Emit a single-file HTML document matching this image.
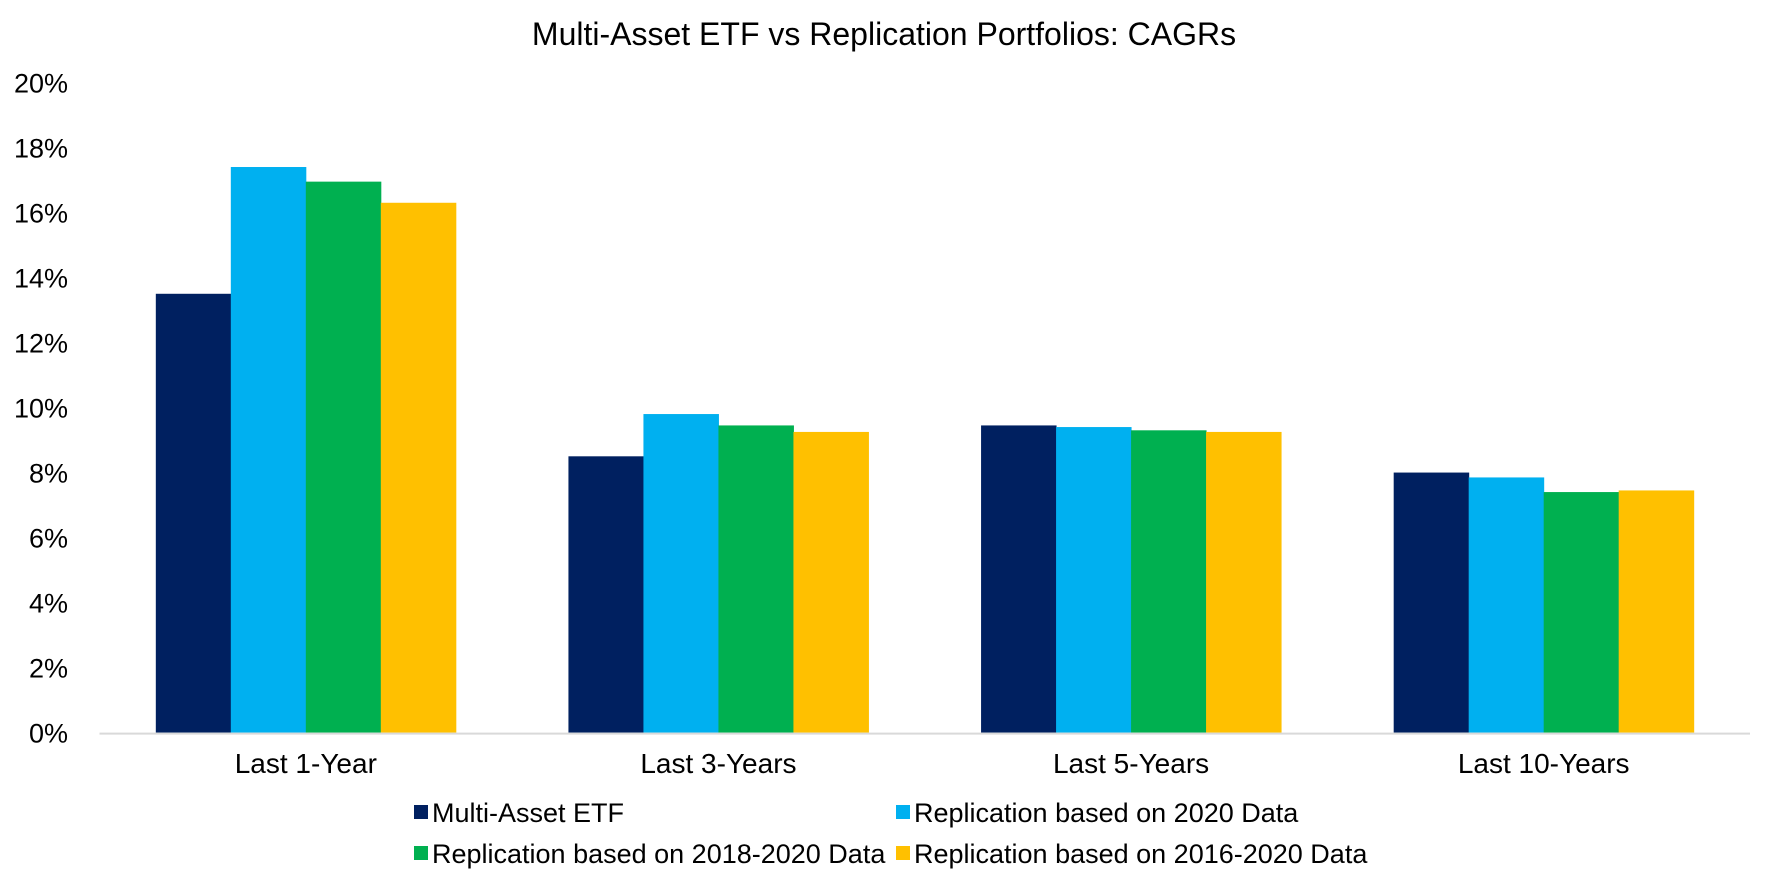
<!DOCTYPE html>
<html><head><meta charset="utf-8"><style>
body{margin:0;background:#fff;}
svg{font-family:"Liberation Sans",Arial,sans-serif;display:block}
</style></head><body>
<svg id="chart" width="1772" height="885">
<text x="884" y="45" text-anchor="middle" font-size="32" fill="#000">Multi-Asset ETF vs Replication Portfolios: CAGRs</text>
<g id="yaxis"></g>
<g id="bars"></g>
<g id="xaxis"></g>
<g id="legend"></g>
</svg>
<script>
const categories=["Last 1-Year","Last 3-Years","Last 5-Years","Last 10-Years"];
const seriesNames=["Multi-Asset ETF","Replication based on 2020 Data","Replication based on 2018-2020 Data","Replication based on 2016-2020 Data"];
const etf=[13.5,8.5,9.45,8.0];
const rep2020=[17.4,9.8,9.4,7.85];
const rep2018=[16.95,9.45,9.3,7.4];
const rep2016=[16.3,9.25,9.25,7.45];
const yTicks=[0,2,4,6,8,10,12,14,16,18,20];
const colors=["#002060","#00B0F0","#00B050","#FFC000"];
const series=[etf,rep2020,rep2018,rep2016];
const NS="http://www.w3.org/2000/svg";
const x0=99.5,x1=1750,y0=732.6,yTop=82.5,yMax=20;
const yS=v=>y0-(v/yMax)*(y0-yTop);
const catW=(x1-x0)/categories.length, barW=75, pad=(catW-4*barW)/2;
function mk(t,a,p){const e=document.createElementNS(NS,t);for(const k in a)e.setAttribute(k,a[k]);p.appendChild(e);return e;}
const ya=document.getElementById('yaxis');
yTicks.forEach(v=>{const t=mk('text',{x:68,y:yS(v)+10,'text-anchor':'end','font-size':27,fill:'#000'},ya);t.textContent=v+'%';

});
const bg=document.getElementById('bars');
series.forEach((s,si)=>s.forEach((v,ci)=>{const r=mk('rect',{x:x0+ci*catW+pad+si*barW,y:yS(v),width:barW+0.5,height:y0-yS(v),fill:colors[si]},bg);

}));
const xa=document.getElementById('xaxis');
const ln=mk('line',{x1:x0,x2:x1,y1:y0+1,y2:y0+1,stroke:'#D9D9D9','stroke-width':2},xa);


categories.forEach((c,i)=>{const t=mk('text',{x:x0+(i+0.5)*catW,y:773,'text-anchor':'middle','font-size':28,fill:'#000'},xa);t.textContent=c;

});
const lg=document.getElementById('legend');
const lpos=[[414,812],[896,812],[414,853],[896,853]];
seriesNames.forEach((n,i)=>{const g=mk('g',{},lg);


mk('rect',{x:lpos[i][0],y:lpos[i][1]-7,width:14,height:14,fill:colors[i]},g);
const t=mk('text',{x:lpos[i][0]+18,y:lpos[i][1]+10,'font-size':27,fill:'#000'},g);t.textContent=n;});
</script>
</body></html>
